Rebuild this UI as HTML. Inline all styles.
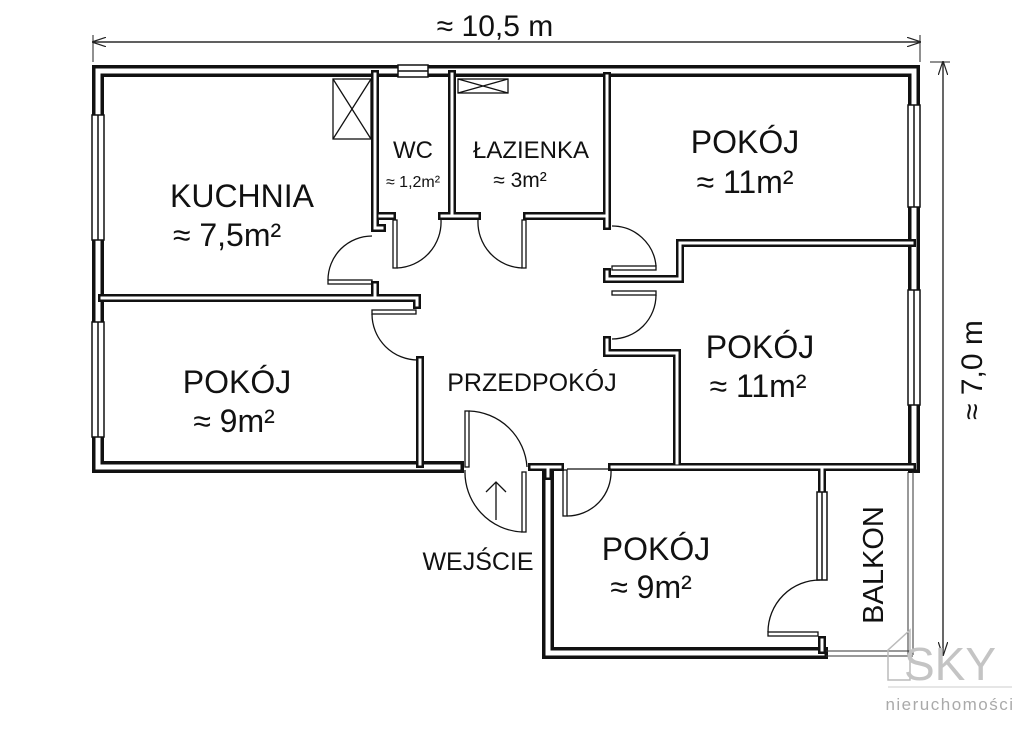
<!DOCTYPE html>
<html><head><meta charset="utf-8"><style>
html,body{margin:0;padding:0;background:#fff;}
svg{display:block}
text{font-family:"Liberation Sans",sans-serif;fill:#111}
</style></head><body>
<svg width="1024" height="741" viewBox="0 0 1024 741" xmlns="http://www.w3.org/2000/svg">
<defs><marker id="ar" markerWidth="12" markerHeight="8" refX="11" refY="4" orient="auto"><path d="M0,0 L12,4 L0,8" fill="none" stroke="#222" stroke-width="1"/></marker></defs>
<!-- dimension lines -->
<line x1="93" y1="42" x2="920" y2="42" stroke="#222" stroke-width="1.2" marker-end="url(#ar)"/>
<line x1="920" y1="42" x2="93" y2="42" stroke="#222" stroke-width="1.2" marker-end="url(#ar)"/>
<line x1="93" y1="35" x2="93" y2="62" stroke="#222" stroke-width="1"/>
<line x1="920" y1="35" x2="920" y2="62" stroke="#222" stroke-width="1"/>
<text x="495" y="36" font-size="30" text-anchor="middle">≈ 10,5 m</text>
<line x1="943" y1="62" x2="943" y2="655" stroke="#222" stroke-width="1.2" marker-end="url(#ar)"/>
<line x1="943" y1="655" x2="943" y2="62" stroke="#222" stroke-width="1.2" marker-end="url(#ar)"/>
<line x1="930" y1="62" x2="950" y2="62" stroke="#222" stroke-width="1"/>
<text transform="translate(982,370) rotate(-90)" font-size="30" text-anchor="middle">≈ 7,0 m</text>

<g fill="none" stroke-linejoin="miter" stroke-linecap="square">
<g stroke="#111" stroke-width="12">
<path d="M98,71 H914 V467"/>
<path d="M98,71 V467 H458"/>
<path d="M548,472 V653 H822"/>
</g>
<g stroke="#fff" stroke-width="5">
<path d="M98,71 H914 V467"/>
<path d="M98,71 V467 H458"/>
<path d="M548,472 V653 H822"/>
</g>
<g stroke="#111" stroke-width="8">
<path d="M102,298 H417 V305"/>
<path d="M420,360 V464"/>
<path d="M375,74 V228 H382"/>
<path d="M375,285 V295"/>
<path d="M380,216 H392"/>
<path d="M442,216 H477"/>
<path d="M527,216 H607 V76"/>
<path d="M452,74 V216"/>
<path d="M607,226 V214"/>
<path d="M607,272 V279 H680 V243 H912"/>
<path d="M607,340 V353 H677 V463"/>
<path d="M532,467 H560 M548,467 V476"/>
<path d="M612,467 H912"/>
<path d="M822,470 V490"/>
<path d="M822,640 V650"/>
</g>
<g stroke="#fff" stroke-width="3">
<path d="M102,298 H417 V305"/>
<path d="M420,360 V464"/>
<path d="M375,74 V228 H382"/>
<path d="M375,285 V295"/>
<path d="M380,216 H392"/>
<path d="M442,216 H477"/>
<path d="M527,216 H607 V76"/>
<path d="M452,74 V216"/>
<path d="M607,226 V214"/>
<path d="M607,272 V279 H680 V243 H912"/>
<path d="M607,340 V353 H677 V463"/>
<path d="M532,467 H560 M548,467 V476"/>
<path d="M612,467 H912"/>
<path d="M822,470 V490"/>
<path d="M822,640 V650"/>
</g>
</g>
<!-- windows -->
<g fill="#fff" stroke="#111" stroke-width="1.5">
<rect x="92" y="115" width="12" height="125"/><line x1="98" y1="115" x2="98" y2="240"/>
<rect x="92" y="322" width="12" height="115"/><line x1="98" y1="322" x2="98" y2="437"/>
<rect x="908" y="105" width="12" height="102"/><line x1="914" y1="105" x2="914" y2="207"/>
<rect x="908" y="290" width="12" height="115"/><line x1="914" y1="290" x2="914" y2="405"/>
<rect x="817" y="492" width="10" height="88"/><line x1="822" y1="492" x2="822" y2="580"/>
<rect x="398" y="65" width="30" height="12"/><line x1="398" y1="71" x2="428" y2="71"/>
</g>
<g fill="none" stroke="#111" stroke-width="1.3">
<rect x="333" y="79" width="38" height="60"/><path d="M333,79 L371,139 M371,79 L333,139"/>
<rect x="458" y="79" width="50" height="14"/><path d="M458,79 L508,93 M508,79 L458,93"/>
</g>
<g stroke="#333" stroke-width="1" fill="none">
<path d="M908,472 V655 M913,472 V655"/>
<path d="M826,651 H913 M826,656 H913"/>
</g>
<!-- doors -->
<g fill="none" stroke="#111" stroke-width="1.3">
<rect x="328" y="280" width="44" height="4"/><path d="M328,280 A44,44 0 0 1 372,236"/>
<rect x="393" y="220" width="4" height="48"/><path d="M397,268 A46,46 0 0 0 441,220"/>
<rect x="522" y="220" width="4" height="48"/><path d="M522,268 A46,46 0 0 1 478,220"/>
<rect x="372" y="310" width="44" height="4"/><path d="M372,314 A46,46 0 0 0 418,360"/>
<rect x="612" y="266" width="44" height="4"/><path d="M656,266 A44,44 0 0 0 612,226"/>
<rect x="612" y="291" width="44" height="4"/><path d="M656,295 A44,44 0 0 1 612,339"/>
<rect x="465" y="411" width="4" height="56"/><path d="M469,411 A60,60 0 0 1 527,467"/>
<rect x="522" y="472" width="4" height="60"/><path d="M522,532 A60,60 0 0 1 465,470"/>
<line x1="496" y1="520" x2="496" y2="482"/><path d="M486,492 L496,482 L506,492"/>
<rect x="563" y="470" width="4" height="46"/><path d="M567,516 A44,44 0 0 0 611,470"/>
<line x1="567" y1="469" x2="611" y2="469"/>
<rect x="768" y="632" width="50" height="4"/><path d="M768,632 A52,52 0 0 1 820,580"/>
</g>
<!-- labels -->
<text x="242" y="207" font-size="32" text-anchor="middle">KUCHNIA</text>
<text x="227" y="246" font-size="32" text-anchor="middle">≈ 7,5m²</text>
<text x="413" y="158" font-size="24" text-anchor="middle">WC</text>
<text x="413" y="187" font-size="16" text-anchor="middle">≈ 1,2m²</text>
<text x="531" y="158" font-size="24" text-anchor="middle">ŁAZIENKA</text>
<text x="520" y="187" font-size="21" text-anchor="middle">≈ 3m²</text>
<text x="745" y="153" font-size="32" text-anchor="middle">POKÓJ</text>
<text x="745" y="193" font-size="32" text-anchor="middle">≈ 11m²</text>
<text x="237" y="393" font-size="32" text-anchor="middle">POKÓJ</text>
<text x="234" y="432" font-size="32" text-anchor="middle">≈ 9m²</text>
<text x="532" y="391" font-size="25" text-anchor="middle">PRZEDPOKÓJ</text>
<text x="760" y="358" font-size="32" text-anchor="middle">POKÓJ</text>
<text x="758" y="397" font-size="32" text-anchor="middle">≈ 11m²</text>
<text x="656" y="560" font-size="32" text-anchor="middle">POKÓJ</text>
<text x="651" y="598" font-size="32" text-anchor="middle">≈ 9m²</text>
<text x="478" y="570" font-size="25" text-anchor="middle">WEJŚCIE</text>
<text transform="translate(883,565) rotate(-90)" font-size="29" text-anchor="middle">BALKON</text>
<g stroke="#bbb" fill="none" stroke-width="1.5">
<path d="M888,680 V650 L910,630 V680 Z"/>
</g>
<text x="950" y="680" font-size="46" text-anchor="middle" style="fill:#c4c4c4">SKY</text>
<line x1="888" y1="687" x2="1012" y2="687" stroke="#ccc" stroke-width="1"/>
<text x="950" y="710" font-size="17" text-anchor="middle" letter-spacing="1.5" style="fill:#aaa">nieruchomości</text>
</svg>
</body></html>
